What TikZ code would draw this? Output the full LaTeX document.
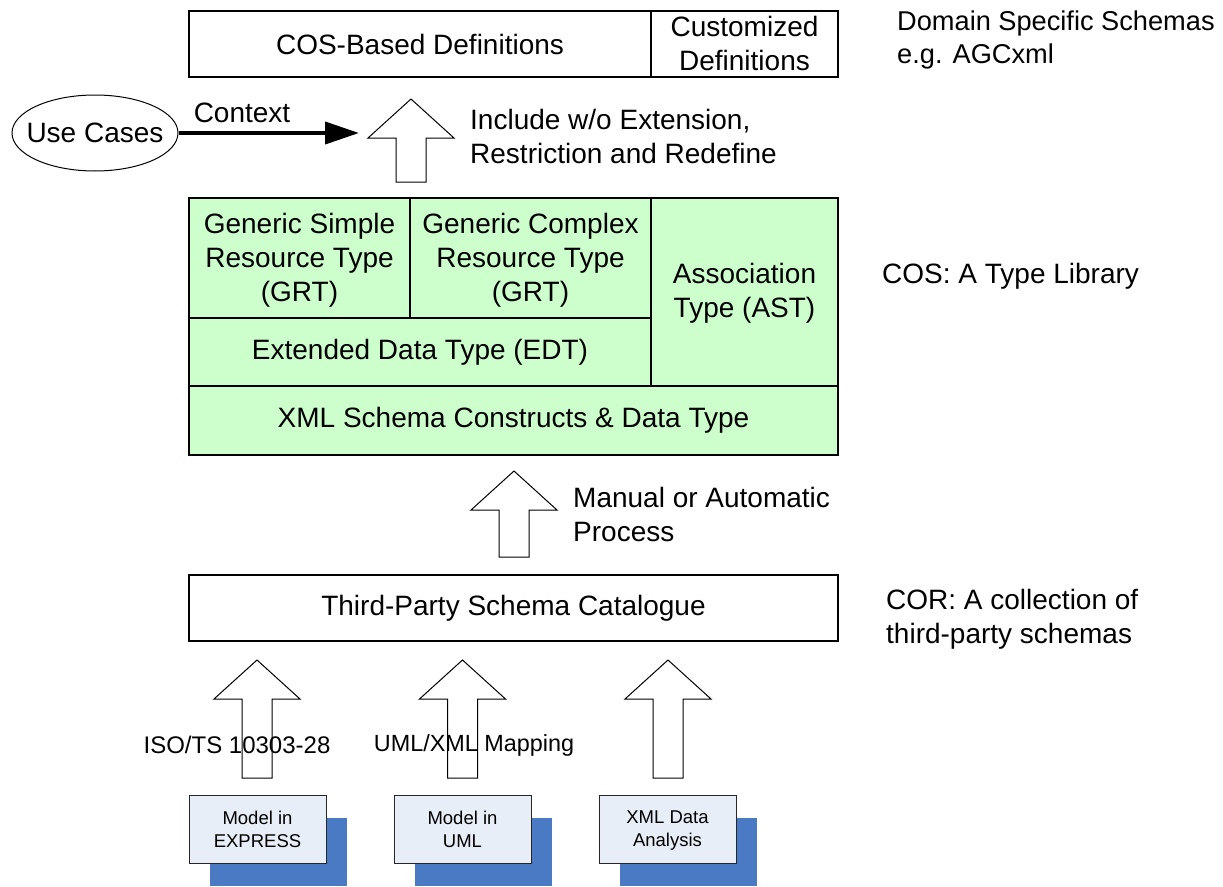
\documentclass[tikz,border=0pt]{standalone}
\usepackage{fontspec}
\setmainfont{Liberation Sans}
\usetikzlibrary{arrows.meta,shapes.geometric}
\definecolor{cosgreen}{HTML}{CCFFCC}
\definecolor{srcfill}{HTML}{E8EEF8}
\definecolor{srcshadow}{HTML}{4A7AC4}
% line strut balanced around the cap height, keeps multi-line text centred
\newcommand\lstrut{\rule[-0.15em]{0pt}{1em}}
% hollow block arrow pointing up: centre x, tip y, tail y
\newcommand\blockup[3]{%
  \draw[blk] (#1-15,#3) -- (#1-15,#2+39) -- (#1-43,#2+39) -- (#1,#2)
    -- (#1+43,#2+39) -- (#1+15,#2+39) -- (#1+15,#3) -- cycle;}
\begin{document}
\begin{tikzpicture}[x=1pt,y=-1pt,
  every node/.style={font=\fontsize{28}{34}\selectfont, align=center, inner sep=0pt},
  frame/.style={draw=black, line width=1.3pt},
  cell/.style={frame, fill=cosgreen},
  note/.style={anchor=west, align=left},
  maplbl/.style={font=\fontsize{24}{29}\selectfont},
  blk/.style={draw=black, line width=1pt, fill=white, line join=miter},
  src/.style={draw=black!85, line width=1pt, fill=srcfill,
    font=\fontsize{18.5}{23}\selectfont, minimum width=137pt, minimum height=68pt},
  srcshade/.style={fill=srcshadow},
  ctx/.style={line width=4pt, -{Triangle[length=34pt,width=22pt]}},
]
\useasboundingbox (0,0) rectangle (1223,886);

% top layer: domain specific schemas
\node[frame, minimum width=462pt, minimum height=66pt] (cosdef) at (420,44) {COS-Based Definitions};
\node[frame, minimum width=187pt, minimum height=66pt] (custdef) at (744.5,44) {Customized\lstrut\\Definitions\lstrut};
\node[note, font=\fontsize{27.2}{33}\selectfont] (dss) at (897,38.5) {Domain Specific Schemas\lstrut\\e.g. AGCxml\lstrut};

% use cases feeding the inclusion step
\node[draw, ellipse, line width=1pt, minimum width=166pt, minimum height=76pt,
  label={[inner sep=0pt]center:Use Cases}] (uc) at (95,133) {};
\coordinate (ctxend) at (359,133);
\draw[ctx] (uc.east) -- (ctxend);
\node (ctxlbl) at (242,113) {Context};

\blockup{411}{99}{182}
\node[note] (incl) at (470,136.5) {Include w/o Extension,\lstrut\\Restriction and Redefine\lstrut};

% COS type library
\node[cell, minimum width=221pt, minimum height=120pt] (gsr) at (299.5,258) {Generic Simple\lstrut\\Resource Type\lstrut\\(GRT)\lstrut};
\node[cell, minimum width=241pt, minimum height=120pt] (gcr) at (530.5,258) {Generic Complex\lstrut\\Resource Type\lstrut\\(GRT)\lstrut};
\node[cell, minimum width=187pt, minimum height=188pt] (ast) at (744.5,292) {Association\lstrut\\Type (AST)\lstrut};
\node[cell, minimum width=462pt, minimum height=68pt] (edt) at (420,352) {Extended Data Type (EDT)};
\node[cell, minimum width=649pt, minimum height=69pt] (xsd) at (513.5,420.5) {XML Schema Constructs \& Data Type};
\node[note] (cos) at (882,276) {COS: A Type Library};

\blockup{514}{471}{557}
\node[note] (proc) at (573,515) {Manual or Automatic\lstrut\\Process\lstrut};

% COR: third-party schemas
\node[frame, minimum width=649pt, minimum height=66pt] (cat) at (513.5,608) {Third-Party Schema Catalogue};
\node[note] (cor) at (886,617.5) {COR: A collection of\lstrut\\third-party schemas\lstrut};

% sources
\blockup{257}{660}{778}
\blockup{462.5}{660}{778}
\blockup{668}{660}{778}
\node[maplbl] (iso) at (237,745) {ISO/TS 10303-28};
\node[maplbl, font=\fontsize{23.4}{28}\selectfont] (umlmap) at (474,745) {UML/XML Mapping};

\fill[srcshade] (210,818) rectangle (347,886);
\fill[srcshade] (415,818) rectangle (552,886);
\fill[srcshade] (620,818) rectangle (757,886);
\node[src] (mexp) at (257.5,829.5) {Model in\lstrut\\EXPRESS\lstrut};
\node[src] (muml) at (462.5,829.5) {Model in\lstrut\\UML\lstrut};
\node[src] (xmla) at (667.5,829.5) {XML Data\lstrut\\Analysis\lstrut};
\end{tikzpicture}
\end{document}
